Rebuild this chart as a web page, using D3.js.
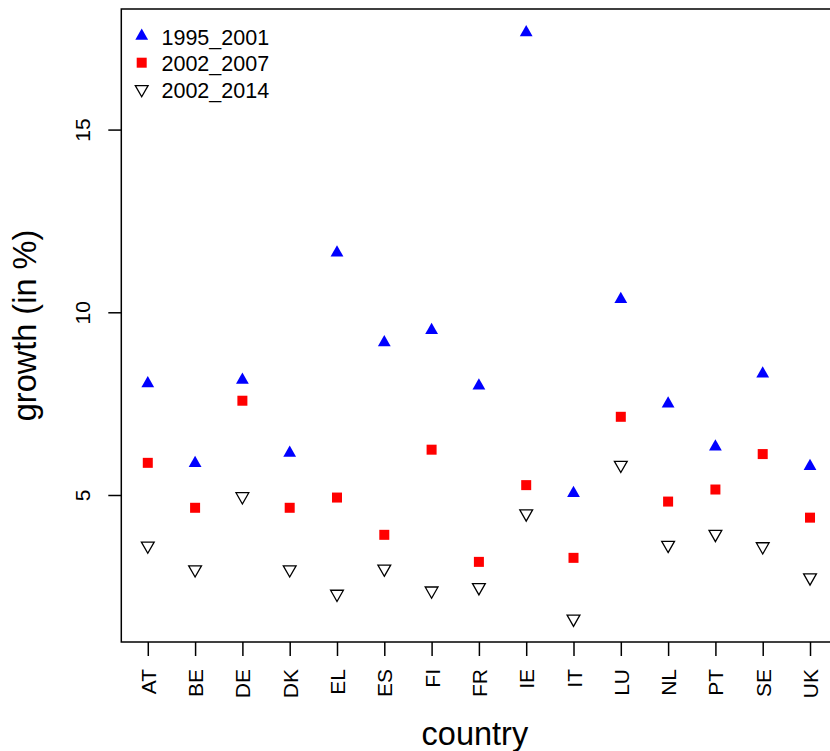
<!DOCTYPE html>
<html>
<head>
<meta charset="utf-8">
<script src="https://cdn.jsdelivr.net/npm/d3@7"></script>
<style>
  body { margin: 0; background: #fff; }
  svg { display: block; font-family: "Liberation Sans", Arial, sans-serif; }
</style>
</head>
<body>
<div id="chart"></div>
<script>
// growth per country, three periods
var countries = ['AT','BE','DE','DK','EL','ES','FI','FR','IE','IT','LU','NL','PT','SE','UK'];
var g1995_2001 = [8.05, 5.87, 8.15, 6.15, 11.63, 9.17, 9.51, 7.99, 17.66, 5.05, 10.36, 7.50, 6.32, 8.32, 5.79];
var g2002_2007 = [5.88, 4.65, 7.58, 4.65, 4.93, 3.91, 6.24, 3.17, 5.27, 3.28, 7.14, 4.82, 5.15, 6.12, 4.38];
var g2002_2014 = [3.61, 2.96, 4.96, 2.96, 2.29, 2.98, 2.38, 2.47, 4.49, 1.61, 5.82, 3.63, 3.93, 3.59, 2.74];
var yTicks = [5, 10, 15];
var legendLabels = ['1995_2001', '2002_2007', '2002_2014'];

var W = 830, H = 751;
// plot box (right edge runs past the window, as in the original)
var pLeft = 121.3, pTop = 9, pBottom = 642, pRight = 836.5;
var tickFont = 21;

var svg = d3.select('#chart').append('svg')
    .attr('width', W)
    .attr('height', H);

// R style index axis: 1..n padded 4%
var x = d3.scaleLinear()
    .domain([0.44, countries.length + 0.56])
    .range([pLeft, pRight]);
var y = d3.scaleLinear()
    .domain([0.977, 18.30])
    .range([pBottom, pTop]);

// box
svg.append('rect')
    .attr('x', pLeft).attr('y', pTop)
    .attr('width', pRight - pLeft).attr('height', pBottom - pTop)
    .attr('fill', 'none').attr('stroke', '#000').attr('stroke-width', 1.5);

// x axis
var xAxis = svg.append('g')
    .attr('transform', 'translate(0,' + pBottom + ')')
    .call(d3.axisBottom(x)
        .tickValues(d3.range(1, countries.length + 1))
        .tickFormat(function(d){ return countries[d - 1]; })
        .tickSize(14)
        .tickPadding(0));
xAxis.select('.domain').remove();
xAxis.selectAll('line').attr('stroke', '#000').attr('stroke-width', 1.5);
xAxis.selectAll('text')
    .attr('font-size', tickFont)
    .attr('fill', '#000')
    .attr('font-family', '"Liberation Sans", Arial, sans-serif')
    .attr('text-anchor', 'end')
    .attr('dy', null)
    .attr('y', 0)
    .attr('dominant-baseline', 'central')
    .attr('transform', 'translate(0,27) rotate(-90)');

// y axis
var yAxis = svg.append('g')
    .attr('transform', 'translate(' + pLeft + ',0)')
    .call(d3.axisLeft(y).tickValues(yTicks).tickSize(13).tickPadding(0));
yAxis.select('.domain').remove();
yAxis.selectAll('line').attr('stroke', '#000').attr('stroke-width', 1.5);
yAxis.selectAll('text')
    .attr('font-size', tickFont)
    .attr('fill', '#000')
    .attr('font-family', '"Liberation Sans", Arial, sans-serif')
    .attr('text-anchor', 'middle')
    .attr('x', 0).attr('dy', null)
    .attr('transform', 'translate(-31,0) rotate(-90)');

// axis titles
svg.append('text')
    .attr('x', (pLeft + pRight) / 2 - 4)
    .attr('y', 745)
    .attr('text-anchor', 'middle')
    .attr('font-size', 32.5)
    .text('country');
svg.append('text')
    .attr('transform', 'translate(36,' + ((pTop + pBottom) / 2) + ') rotate(-90)')
    .attr('text-anchor', 'middle')
    .attr('font-size', 32.5)
    .text('growth (in %)');

// symbols, R pch 17 / 15 / 6 shapes
var tr = 7.5, txc = 6.4;
function triUp(cx, cy){
    return 'M' + cx + ',' + (cy - tr) + 'L' + (cx + txc) + ',' + (cy + tr / 2) +
        'L' + (cx - txc) + ',' + (cy + tr / 2) + 'Z';
}
function triDown(cx, cy){
    return 'M' + cx + ',' + (cy + tr) + 'L' + (cx + txc) + ',' + (cy - tr / 2) +
        'L' + (cx - txc) + ',' + (cy - tr / 2) + 'Z';
}
function drawTri(g, cx, cy){
    return g.append('path').attr('d', triUp(cx, cy)).attr('fill', '#0000ff');
}
function drawSquare(g, cx, cy){
    return g.append('rect')
        .attr('x', cx - 5).attr('y', cy - 5)
        .attr('width', 10).attr('height', 10)
        .attr('fill', '#ff0000');
}
function drawOpen(g, cx, cy){
    return g.append('path').attr('d', triDown(cx, cy))
        .attr('fill', 'none').attr('stroke', '#000').attr('stroke-width', 1.3);
}

var pts = svg.append('g');
for(var i = 0; i < countries.length; i++){
    drawTri(pts, x(i + 1), y(g1995_2001[i]));
    drawSquare(pts, x(i + 1), y(g2002_2007[i]));
    drawOpen(pts, x(i + 1), y(g2002_2014[i]));
}

// legend
var lg = svg.append('g');
var rows = [36, 62.7, 89.3];
drawTri(lg, 141.7, rows[0]);
drawSquare(lg, 141.7, rows[1]);
drawOpen(lg, 141.7, rows[2]);
for(var j = 0; j < legendLabels.length; j++){
    lg.append('text')
        .attr('x', 161.5)
        .attr('y', rows[j] + 8.5)
        .attr('font-size', 21.5)
        .text(legendLabels[j]);
}
</script>
</body>
</html>
